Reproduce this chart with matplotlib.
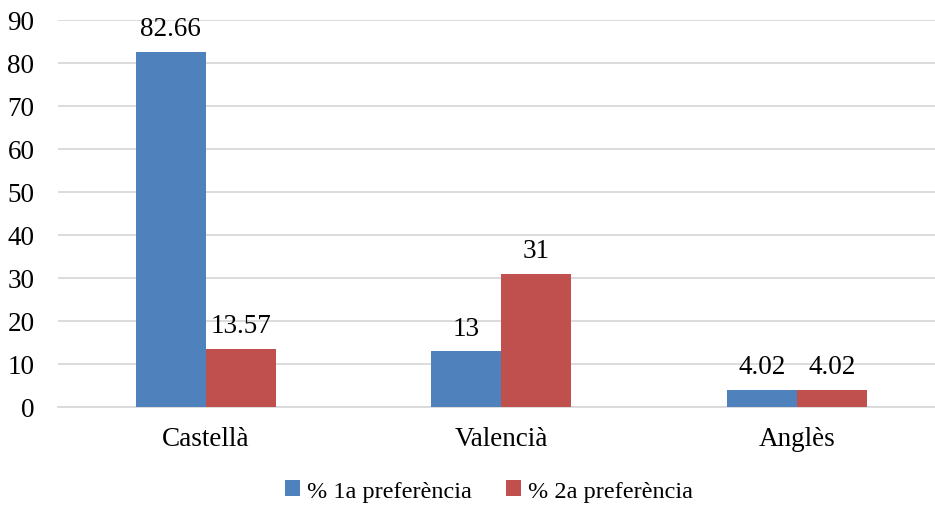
import matplotlib.pyplot as plt
import numpy as np

plt.rcParams['font.family'] = ['Liberation Serif', 'DejaVu Serif']

categories = ['Castellà', 'Valencià', 'Anglès']
first_pref = [82.66, 13, 4.02]
second_pref = [13.57, 31, 4.02]
first_labels = ['82.66', '13', '4.02']
second_labels = ['13.57', '31', '4.02']
series_names = ['% 1a preferència', '% 2a preferència']
colors = ['#4F81BD', '#C0504D']

fig = plt.figure(figsize=(9.35, 5.06), dpi=100)
W, H = 935, 506
left, right = 58, 935
bottom, top = 408, 21
ax = fig.add_axes([left / W, 1 - bottom / H, (right - left) / W, (bottom - top) / H])

x = np.arange(len(categories))
width = 0.237
spacing = 295.5
xmax = -0.5 + (right - left) / spacing
fs = 19.5

b1 = ax.bar(x - width / 2, first_pref, width, color=colors[0], label=series_names[0], zorder=3)
b2 = ax.bar(x + width / 2, second_pref, width, color=colors[1], label=series_names[1], zorder=3)

for bars, labels in ((b1, first_labels), (b2, second_labels)):
    for bar, lab in zip(bars, labels):
        ax.text(bar.get_x() + bar.get_width() / 2, bar.get_height() + 2.4, lab,
                ha='center', va='bottom', fontsize=fs)

ax.set_xlim(-0.5, xmax)
ax.set_ylim(0, 90)
ax.set_yticks(range(0, 91, 10))
ax.set_xticks(x)
ax.set_xticklabels(categories)
ax.tick_params(axis='both', length=0, labelsize=fs)
ax.tick_params(axis='y', pad=17)
ax.tick_params(axis='x', pad=14)
ax.yaxis.grid(True, color='#D9D9D9', linewidth=1.3, zorder=0)
for s in ['top', 'right', 'left']:
    ax.spines[s].set_visible(False)
ax.spines['bottom'].set_color('#D9D9D9')
ax.spines['bottom'].set_linewidth(1.3)

fig.legend(handles=[b1, b2], labels=series_names, loc='center', bbox_to_anchor=(489 / W, 1 - 492 / H),
           ncol=2, frameon=False, fontsize=17.5, handlelength=0.6, handleheight=0.6,
           handletextpad=0.3, columnspacing=1.4)

fig.savefig('out.png', dpi=100)
